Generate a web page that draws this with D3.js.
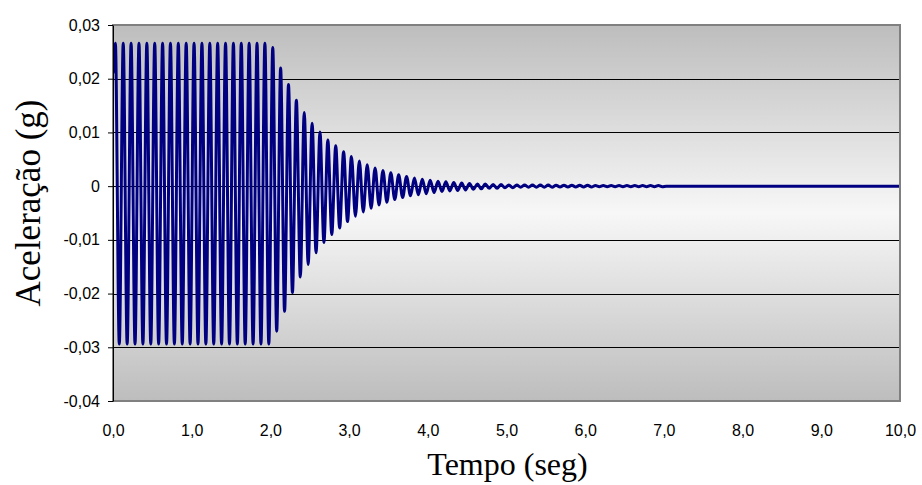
<!DOCTYPE html>
<html>
<head>
<meta charset="utf-8">
<script src="https://cdn.jsdelivr.net/npm/d3@7"></script>
<style>
  html, body { margin: 0; padding: 0; background: #ffffff; }
  svg { display: block; }
</style>
</head>
<body>
<svg id="chart" width="922" height="485"></svg>
<script>
// ---- data (extrema of the acceleration record) ----
const timeSec = [
  0, 0.03, 0.08, 0.13, 0.18, 0.23, 0.28, 0.33, 0.38, 0.43, 0.48, 0.53, 0.58, 0.63, 0.68, 0.73, 0.78, 0.83, 0.88, 0.93, 0.98,
  1.03, 1.08, 1.13, 1.18, 1.23, 1.28, 1.33, 1.38, 1.43, 1.48, 1.53, 1.58, 1.63, 1.68, 1.73, 1.78, 1.83, 1.88, 1.93, 1.98,
  2.03, 2.08, 2.13, 2.18, 2.23, 2.28, 2.33, 2.38, 2.43, 2.48, 2.53, 2.58, 2.63, 2.68, 2.73, 2.78, 2.83, 2.88, 2.93, 2.98,
  3.03, 3.08, 3.13, 3.18, 3.23, 3.28, 3.33, 3.38, 3.43, 3.48, 3.53, 3.58, 3.63, 3.68, 3.73, 3.78, 3.83, 3.88, 3.93, 3.98,
  4.03, 4.08, 4.13, 4.18, 4.23, 4.28, 4.33, 4.38, 4.43, 4.48, 4.53, 4.58, 4.63, 4.68, 4.73, 4.78, 4.83, 4.88, 4.93, 4.98,
  5.03, 5.08, 5.13, 5.18, 5.23, 5.28, 5.33, 5.38, 5.43, 5.48, 5.53, 5.58, 5.63, 5.68, 5.73, 5.78, 5.83, 5.88, 5.93, 5.98,
  6.03, 6.08, 6.13, 6.18, 6.23, 6.28, 6.33, 6.38, 6.43, 6.48, 6.53, 6.58, 6.63, 6.68, 6.73, 6.78, 6.83, 6.88, 6.93, 6.98,
  7.03, 10.0
];
const accelG = [
  0.0210,
  0.0266, -0.0294, 0.0266, -0.0294, 0.0266, -0.0294, 0.0266, -0.0294, 0.0266, -0.0294,
  0.0266, -0.0294, 0.0266, -0.0294, 0.0266, -0.0294, 0.0266, -0.0294, 0.0266, -0.0294,
  0.0266, -0.0294, 0.0266, -0.0294, 0.0266, -0.0294, 0.0266, -0.0294, 0.0266, -0.0294,
  0.0266, -0.0294, 0.0266, -0.0294, 0.0266, -0.0294, 0.0266, -0.0294, 0.0266, -0.0294,
  0.0258, -0.0270, 0.0220, -0.0233, 0.0189, -0.0198, 0.0160, -0.0169, 0.0137, -0.0146,
  0.0117, -0.0124, 0.0101, -0.0105, 0.0086, -0.0090, 0.0075, -0.0078, 0.0064, -0.0066,
  0.0055, -0.0056, 0.0047, -0.0048, 0.0040, -0.0041, 0.0034, -0.0035, 0.0029, -0.0030,
  0.0025, -0.0025, 0.0021, -0.0021, 0.0018, -0.0018, 0.0015, -0.0016, 0.0013, -0.0014,
  0.0011, -0.0012, 0.0009, -0.0010, 0.0008, -0.0009, 0.0007, -0.0008, 0.0006, -0.0007,
  0.0005, -0.0006, 0.0004, -0.0005, 0.0004, -0.0004, 0.0003, -0.0004, 0.0003, -0.0003,
  0.0002, -0.0003, 0.0002, -0.0002, 0.0002, -0.0002, 0.0002, -0.0002, 0.0002, -0.0002,
  0.0002, -0.0002, 0.00015, -0.00015, 0.00015, -0.00015, 0.00015, -0.00015, 0.00015, -0.00015,
  0.00015, -0.00015, 0.0001, -0.0001, 0.0001, -0.0001, 0.0001, -0.0001, 0.0001, -0.0001,
  0.0001, -0.0001, 0.0001, -0.0001, 0.0001, -0.0001, 0.0001, -0.0001, 0.0001, -0.0001,
  0, 0
];
const yTicks = [-0.04, -0.03, -0.02, -0.01, 0, 0.01, 0.02, 0.03];
const xTicks = [0, 1, 2, 3, 4, 5, 6, 7, 8, 9, 10];
const xTitle = "Tempo (seg)";
const yTitle = "Aceleração (g)";

// ---- layout ----
const svg = d3.select("#chart");
const plot = { left: 113, right: 900, top: 25, bottom: 401 };

const x = d3.scaleLinear().domain([0, 10]).range([plot.left, plot.right]);
const y = d3.scaleLinear().domain([-0.04, 0.03]).range([plot.bottom, plot.top]);

const defs = svg.append("defs");
const grad = defs.append("linearGradient").attr("id", "bg")
  .attr("x1", 0).attr("y1", 0).attr("x2", 0).attr("y2", 1);
grad.append("stop").attr("offset", "0%").attr("stop-color", "#bdbdbd");
grad.append("stop").attr("offset", "50%").attr("stop-color", "#f7f7f7");
grad.append("stop").attr("offset", "100%").attr("stop-color", "#bdbdbd");

defs.append("clipPath").attr("id", "clip").append("rect")
  .attr("x", plot.left).attr("y", plot.top - 2)
  .attr("width", plot.right - plot.left).attr("height", plot.bottom - plot.top + 2);

svg.append("rect")
  .attr("x", plot.left).attr("y", plot.top)
  .attr("width", plot.right - plot.left).attr("height", plot.bottom - plot.top)
  .attr("fill", "url(#bg)");

// gridlines
svg.append("g").selectAll("line")
  .data(yTicks.filter(d => d > -0.035 && d < 0.025))
  .join("line")
  .attr("x1", plot.left).attr("x2", plot.right)
  .attr("y1", d => Math.round(y(d)) + 0.5).attr("y2", d => Math.round(y(d)) + 0.5)
  .attr("stroke", "#000").attr("stroke-width", 1);

// data line
const pts = timeSec.map((t, i) => [t, accelG[i]]);
const line = d3.line().x(d => x(d[0])).y(d => y(d[1])).curve(d3.curveMonotoneX);
svg.append("path")
  .attr("clip-path", "url(#clip)")
  .attr("d", line(pts))
  .attr("fill", "none")
  .attr("stroke", "#000080")
  .attr("stroke-width", 3)
  .attr("stroke-linejoin", "round");

// plot border
svg.append("rect")
  .attr("x", plot.left).attr("y", plot.top)
  .attr("width", plot.right - plot.left).attr("height", plot.bottom - plot.top)
  .attr("fill", "none").attr("stroke", "#808080").attr("stroke-width", 2);

// y axis
const fmtY = d => d === 0 ? "0" : (d < 0 ? "-" : "") + Math.abs(d).toFixed(2).replace(".", ",");
const yAxis = svg.append("g")
  .attr("transform", `translate(${plot.left},0)`)
  .call(d3.axisLeft(y).tickValues(yTicks).tickFormat(fmtY).tickSize(5).tickPadding(8).tickSizeOuter(0));
yAxis.select(".domain").attr("stroke", "#000");
yAxis.selectAll("line").attr("stroke", "#000");
yAxis.selectAll("text").attr("font-family", "Arial, 'Liberation Sans', sans-serif").attr("font-size", 16).attr("fill", "#000");

// x axis
const fmtX = d => d.toFixed(1).replace(".", ",");
const xAxis = svg.append("g")
  .attr("transform", `translate(0,${plot.bottom})`)
  .call(d3.axisBottom(x).tickValues(xTicks).tickFormat(fmtX).tickSize(0).tickPadding(24));
xAxis.select(".domain").remove();
xAxis.selectAll("text").attr("font-family", "Arial, 'Liberation Sans', sans-serif").attr("font-size", 16).attr("fill", "#000");

// titles
svg.append("text")
  .attr("x", (plot.left + plot.right) / 2 + 1).attr("y", 475)
  .attr("text-anchor", "middle")
  .attr("font-family", "'Times New Roman', 'Liberation Serif', serif")
  .attr("font-size", 32).attr("fill", "#000")
  .text(xTitle);

svg.append("text")
  .attr("transform", `translate(40,203) rotate(-90)`)
  .attr("text-anchor", "middle")
  .attr("font-family", "'Times New Roman', 'Liberation Serif', serif")
  .attr("font-size", 35).attr("fill", "#000")
  .text(yTitle);
</script>
</body>
</html>
